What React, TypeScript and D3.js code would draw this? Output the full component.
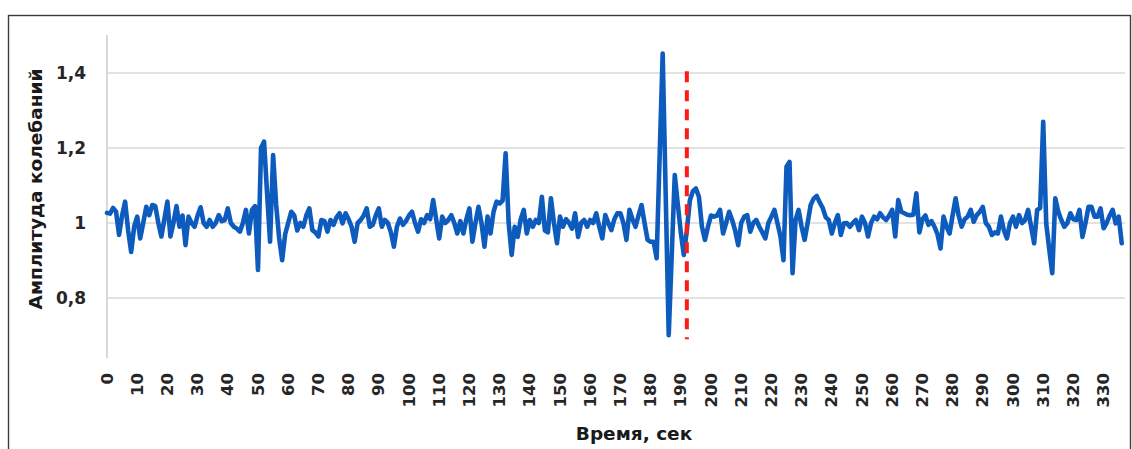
import React from "react";
import * as d3 from "d3";

// Amplitude of oscillations, one reading per second
const amplitude: number[] = [
  1.027, 1.025, 1.04, 1.03, 0.968, 1.02, 1.057, 0.98, 0.923, 0.99,
  1.017, 0.959, 1.0, 1.043, 1.021, 1.048, 1.045, 1.0, 0.964, 1.01,
  1.057, 0.964, 1.0, 1.045, 0.99, 1.02, 0.941, 1.017, 1.0, 0.99,
  1.02, 1.042, 1.0, 0.99, 1.008, 0.99, 1.0, 1.021, 1.005, 1.008,
  1.039, 1.0, 0.99, 0.985, 0.977, 1.0, 1.035, 0.972, 1.035, 1.045,
  0.875, 1.2, 1.217, 1.08, 0.95, 1.181, 1.05, 0.96, 0.901, 0.97,
  1.0, 1.03, 1.02, 0.98, 1.0, 0.99, 1.02, 1.039, 0.981, 0.975,
  0.964, 1.008, 1.005, 0.977, 1.008, 0.995, 1.015, 1.026, 0.999, 1.026,
  1.01, 0.99, 0.95, 1.0, 1.008, 1.02, 1.039, 0.99, 0.995, 1.02,
  1.039, 0.99, 1.008, 1.0, 0.975, 0.937, 0.99, 1.012, 0.995, 1.005,
  1.02, 1.03, 1.0, 0.977, 1.01, 1.0, 1.021, 1.01, 1.061, 1.01,
  0.959, 1.017, 1.0, 1.008, 1.021, 1.0, 0.972, 1.005, 0.972, 1.01,
  1.039, 0.95, 1.0, 1.043, 1.0, 0.937, 1.017, 0.972, 1.03, 1.057,
  1.052, 1.06, 1.186, 1.0, 0.915, 0.99, 0.963, 1.01, 1.035, 0.972,
  1.008, 0.99, 1.008, 1.0, 1.07, 0.98, 0.975, 1.066, 1.0, 0.946,
  1.017, 0.99, 1.01, 1.0, 0.985, 1.026, 0.963, 1.0, 1.008, 0.99,
  1.008, 1.0, 1.026, 0.99, 0.959, 1.021, 1.0, 0.981, 1.01, 1.026,
  1.026, 1.0, 0.955, 1.035, 1.01, 0.99, 1.02, 1.048, 1.0, 0.955,
  0.95, 0.95, 0.906, 1.18, 1.452, 1.076, 0.701, 0.915, 1.128, 1.05,
  0.975, 0.915, 0.98, 1.06, 1.085, 1.092, 1.07, 0.99, 0.955, 0.99,
  1.02, 1.017, 1.02, 1.035, 0.972, 1.0, 1.03, 1.008, 0.98, 0.941,
  1.0, 1.017, 1.021, 0.977, 1.0, 1.008, 0.99, 0.975, 0.959, 1.0,
  1.017, 1.035, 1.0, 0.964, 0.901, 1.15, 1.163, 0.866, 1.008, 1.035,
  0.99, 0.955, 1.0, 1.048, 1.065, 1.072, 1.055, 1.04, 1.015, 1.008,
  0.972, 1.0, 1.021, 0.968, 0.999, 1.0, 0.99, 1.0, 1.008, 0.981,
  1.017, 1.0, 0.964, 1.0, 1.017, 1.01, 1.026, 1.015, 1.008, 1.02,
  1.035, 0.964, 1.061, 1.03, 1.026, 1.022, 1.021, 1.022, 1.079, 0.975,
  1.01, 1.02, 0.995, 1.005, 0.99, 0.97, 0.932, 1.017, 0.99, 0.972,
  1.02, 1.066, 1.02, 0.99, 1.01, 1.017, 1.035, 1.003, 1.021, 1.03,
  1.043, 1.0, 0.99, 0.968, 0.975, 0.972, 1.017, 0.98, 0.959, 1.0,
  1.017, 0.99, 1.021, 1.0, 1.008, 1.035, 0.99, 0.946, 1.035, 1.04,
  1.27, 0.999, 0.93, 0.866, 1.066, 1.03, 1.008, 0.99, 1.0, 1.026,
  1.01, 1.008, 1.035, 0.963, 1.0, 1.043, 1.043, 1.017, 1.017, 1.039,
  0.986, 1.0, 1.02, 1.035, 0.999, 1.017, 0.946,
];

const yTicks: number[] = [0.8, 1.0, 1.2, 1.4];
const xTicks: number[] = d3.range(0, 331, 10);
const markerTime = 192;
const markerRange: [number, number] = [0.69, 1.405];

const FONT = "'DejaVu Sans', sans-serif";

export default function App() {
  const width = 1132;
  const height = 449;
  const left = 107;
  const right = 1125;

  const x = d3
    .scaleLinear()
    .domain([0, amplitude.length - 1])
    .range([left, left + (amplitude.length - 1) * 3.02]);
  const y = d3.scaleLinear().domain([0.64, 1.5]).range([358, 35.5]);

  const line = d3
    .line<number>()
    .x((_, i) => x(i))
    .y((d) => y(d));

  const fmt = (v: number) => d3.format("~g")(v).replace(".", ",");

  return (
    <svg
      width={width}
      height={height}
      style={{ position: "absolute", left: 0, top: 0, background: "#fff" }}
    >
      <rect x={0} y={0} width={width} height={height} fill="#fff" />
      <rect
        x={8.5}
        y={15.5}
        width={1122}
        height={460}
        fill="none"
        stroke="#3c3c3c"
        strokeWidth={1.4}
      />

      {yTicks.map((t) => (
        <line
          key={t}
          x1={left}
          x2={right}
          y1={y(t)}
          y2={y(t)}
          stroke="#d9d9d9"
          strokeWidth={1.6}
        />
      ))}
      <line x1={left} x2={left} y1={35} y2={358} stroke="#d0d0d0" strokeWidth={1.6} />

      {yTicks.map((t) => (
        <text
          key={t}
          x={86}
          y={y(t)}
          textAnchor="end"
          dominantBaseline="central"
          fontFamily={FONT}
          fontWeight="bold"
          fontSize={17}
          fill="#262626"
        >
          {fmt(t)}
        </text>
      ))}

      {xTicks.map((t) => (
        <text
          key={t}
          transform={`translate(${x(t)},373) rotate(-90)`}
          textAnchor="end"
          dominantBaseline="central"
          fontFamily={FONT}
          fontWeight="bold"
          fontSize={16.5}
          fill="#262626"
        >
          {t}
        </text>
      ))}

      <text
        x={634}
        y={440}
        textAnchor="middle"
        fontFamily={FONT}
        fontWeight="bold"
        fontSize={18.5}
        fill="#1a1a1a"
      >
        Время, сек
      </text>
      <text
        transform="translate(35,189) rotate(-90)"
        textAnchor="middle"
        dominantBaseline="central"
        fontFamily={FONT}
        fontWeight="bold"
        fontSize={18.5}
        fill="#1a1a1a"
      >
        Амплитуда колебаний
      </text>

      <path
        d={line(amplitude) ?? ""}
        fill="none"
        stroke="#0d5bbd"
        strokeWidth={4.6}
        strokeLinejoin="round"
        strokeLinecap="round"
      />

      <line
        x1={x(markerTime)}
        x2={x(markerTime)}
        y1={y(markerRange[1])}
        y2={y(markerRange[0])}
        stroke="#ff1a1a"
        strokeWidth={4}
        strokeDasharray="11 8"
      />
    </svg>
  );
}
